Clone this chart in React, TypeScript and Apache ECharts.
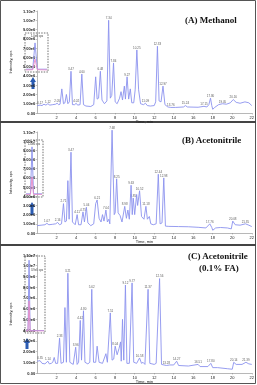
import React, { useEffect, useRef } from "react";
import * as echarts from "echarts";

// ---- Panel A (Methanol): time (min), intensity (x1e6 cps)
const timesA = [0,0.3,0.5,0.7,0.9,1.1,1.3,1.6,1.9,2.05,2.2,2.35,2.53,2.7,2.85,3.0,3.15,3.3,3.47,3.62,3.85,4.0,4.15,4.4,4.58,4.75,5.0,5.5,5.8,6.0,6.15,6.3,6.48,6.65,6.9,7.15,7.33,7.5,7.65,7.83,8.0,8.2,8.45,8.6,8.75,8.94,9.05,9.22,9.38,9.55,9.7,9.9,10.05,10.22,10.4,10.6,10.9,11.1,11.3,11.6,12.0,12.15,12.33,12.5,12.7,12.9,13.1,13.4,13.7,14.2,15.0,15.2,15.4,16.5,17.1,17.4,17.6,17.77,17.9,18.0,18.2,18.6,19.0,19.4,19.8,20.1,20.4,20.8,21.3,21.7,22];
const valuesA = [0.8,0.85,0.8,0.95,0.85,1.0,0.85,0.9,0.95,1.05,0.9,0.95,2.6,1.0,1.1,2.0,1.0,1.2,4.5,0.9,0.9,1.05,0.85,0.9,4.2,0.9,0.75,0.7,0.9,3.9,1.5,1.6,4.5,1.4,1.0,1.3,10.0,1.6,1.9,5.4,1.2,1.0,1.6,2.3,1.4,2.9,1.5,3.9,1.5,2.6,1.1,1.1,2.5,6.8,2.5,1.0,0.9,1.05,0.8,0.75,0.8,1.2,7.2,1.3,1.2,2.9,0.9,0.65,0.6,0.6,0.65,0.8,0.65,0.62,0.72,0.65,0.9,1.6,0.8,0.4,0.6,0.9,1.0,0.95,1.1,1.45,1.15,1.05,1.2,1.1,0.8];
const labelTimesA = [0.3,1.1,2.05,3.47,4.0,4.58,6.48,7.33,7.83,9.22,10.22,11.1,12.33,12.9,13.7,15.2,17.1,17.77,19.0,20.1];
const labelValuesA = [0.85,1.0,1.05,4.5,1.05,4.2,4.5,10.0,5.4,3.9,6.8,1.05,7.2,2.9,0.6,0.8,0.72,1.6,1.0,1.45];
const labelTextsA = ["0.17","1.12","2.05","3.47","4.02","4.60","6.48","7.34","7.84","9.27","10.25","11.09","12.33","12.97","13.76","15.24","17.15","17.80","19.05","20.16"];

// ---- Panel B (Acetonitrile)
const timesB = [0,0.4,0.8,1.0,1.2,1.6,1.9,2.1,2.3,2.5,2.7,2.85,3.0,3.15,3.28,3.47,3.62,3.9,4.1,4.25,4.5,4.7,4.85,5.05,5.2,5.5,5.8,6.0,6.15,6.35,6.55,6.7,6.85,7.05,7.2,7.35,7.45,7.68,7.9,8.0,8.15,8.3,8.5,8.7,8.98,9.15,9.3,9.45,9.63,9.75,9.85,10.0,10.2,10.3,10.5,10.7,10.95,11.15,11.3,11.5,11.65,11.9,12.2,12.42,12.6,12.8,12.98,13.15,13.5,14.5,15.5,16.5,17.3,17.7,17.9,18.0,18.3,18.8,19.5,19.9,20.05,20.3,20.8,21.35,21.7,22];
const valuesB = [0.8,0.85,0.9,1.05,0.9,0.95,1.0,1.15,0.9,1.0,3.2,1.2,1.3,5.7,1.5,8.8,1.2,0.9,2.0,0.9,0.9,2.3,1.2,2.8,1.1,0.8,1.0,3.2,3.6,1.6,1.2,2.0,1.3,2.5,1.2,1.5,1.0,11.2,2.0,2.2,5.9,2.2,1.9,1.2,2.9,1.6,2.5,1.5,5.2,2.0,3.8,2.0,4.2,3.0,4.6,1.8,1.5,2.9,1.5,1.8,1.0,0.9,1.0,6.4,1.0,1.1,6.0,0.75,0.72,0.7,0.68,0.62,0.55,1.0,0.6,0.3,0.55,0.6,0.55,0.45,1.3,0.9,0.85,1.0,0.85,0.7];
const labelTimesB = [1.0,2.1,2.7,3.47,4.1,4.7,5.05,6.15,7.05,7.68,8.15,8.98,9.63,9.85,10.5,11.15,12.42,12.98,17.7,20.05,21.35];
const labelValuesB = [1.05,1.15,3.2,8.8,2.0,2.3,2.8,3.6,2.5,11.2,5.9,2.9,5.2,3.8,4.6,2.9,6.4,6.0,1.0,1.3,1.0];
const labelTextsB = ["1.07","2.16","2.71","3.47","4.11","4.75","5.04","6.21","7.04","7.68","8.25","8.98","9.63","9.85","10.52","11.18","12.44","12.98","17.76","20.08","21.35"];

// ---- Panel C (Acetonitrile, 0.1% FA)
const timesC = [0,0.3,0.5,0.8,1.1,1.25,1.45,1.6,1.75,1.9,2.1,2.3,2.45,2.7,2.85,3.0,3.15,3.35,3.7,3.95,4.1,4.25,4.42,4.55,4.75,4.9,5.2,5.4,5.6,5.78,6.0,6.15,6.35,6.7,7.05,7.2,7.5,7.68,7.85,8.0,8.2,8.4,8.55,8.62,8.75,8.88,9.05,9.2,9.45,9.73,9.9,10.2,10.5,10.7,10.85,11.05,11.37,11.55,12.0,12.2,12.55,12.75,13.0,13.25,13.6,14.0,14.3,14.5,15.5,16.5,16.7,17.5,17.8,18.0,18.5,19.5,20.0,20.15,20.4,21.0,21.4,21.7,22];
const valuesC = [1.1,1.15,0.9,0.85,1.1,0.85,0.9,1.0,1.45,0.9,0.9,3.25,0.9,1.0,6.1,1.0,9.3,1.0,0.8,2.4,0.8,1.0,4.9,1.2,5.8,1.0,0.85,1.0,7.8,1.0,1.0,2.5,1.0,0.9,1.8,1.0,5.6,1.2,1.3,2.5,1.7,2.3,2.9,1.1,5.0,1.2,8.2,0.9,0.9,8.4,1.0,0.9,1.4,0.9,1.0,0.8,7.8,0.9,0.8,0.9,8.8,0.8,0.75,0.7,0.75,0.75,1.1,0.7,0.65,0.8,0.6,0.6,0.9,0.5,0.5,0.4,0.35,1.0,0.8,0.8,1.0,0.85,0.8];
const labelTimesC = [0.3,1.1,2.3,3.15,3.95,4.42,4.75,5.6,7.5,8.0,9.05,9.73,10.5,11.37,12.55,13.25,14.3,16.5,17.8,20.15,21.4];
const labelValuesC = [1.15,1.1,3.25,9.3,2.4,4.9,5.8,7.8,5.6,2.5,8.2,8.4,1.4,7.8,8.8,0.7,1.1,0.8,0.9,1.0,1.0];
const labelTextsC = ["0.35","1.14","2.33","3.21","3.96","4.42","4.80","5.62","7.51","8.04","9.12","9.77","10.58","11.37","12.56","13.28","14.27","16.51","17.80","20.14","21.39"];

// ---- Insets (relative units)
const insetTimesA = [0,3.2,4.3,5.4,10];
const insetBlueA = [5,5,78,5,5];
const insetPinkA = [3,3.6,33,3.6,3];
const insetTimesB = [0,2.8,3.75,4.7,10];
const insetBlueB = [4,4,91,4,4];
const insetPinkB = [3,3,35,3,3];
const insetTimesC = [0,1.1,1.7,2.3,10];
const insetBlueC = [2,2,97,2,2];
const insetPinkC = [1.5,1.5,42,1.5,1.5];

const BLUE = "#8b92ee";
const PINK = "#e88cc8";

const zip = (a: number[], b: number[]) => a.map((t, i) => [t, b[i]]);
const labelData = (t: number[], v: number[], s: string[]) => t.map((x, i) => [x, v[i], s[i]]);

const yFmt = (v: number) => (v === 0 ? "0.00" : v >= 10 ? (v / 10).toFixed(2) + "e7" : v.toFixed(2) + "e6");

export default function App() {
  const ref = useRef<HTMLDivElement>(null);
  useEffect(() => {
    if (!ref.current) return;
    const chart = echarts.init(ref.current, undefined, { renderer: "svg" });
    const grids = [
      { left: 20, top: 11, width: 232, height: 102 },
      { left: 20, top: 132, width: 232, height: 101 },
      { left: 20, top: 255, width: 232, height: 118 },
      { left: 26, top: 35, width: 21, height: 36 },
      { left: 26, top: 142, width: 16, height: 54 },
      { left: 26, top: 258, width: 18, height: 74 },
    ];
    const mainX = (i: number) => ({
      type: "value", gridIndex: i, min: 0, max: 22, interval: 2,
      name: "Time, min", nameLocation: "middle", nameGap: 6,
      nameTextStyle: { fontSize: 4, color: "#222", fontFamily: "Liberation Sans" },
      axisLine: { lineStyle: { color: "#888", width: 0.6 } },
      axisTick: { length: 1.5, lineStyle: { color: "#888", width: 0.5 } },
      axisLabel: { fontSize: 4, color: "#222", margin: 2, showMinLabel: false },
      splitLine: { show: false },
    });
    const mainY = (i: number) => ({
      type: "value", gridIndex: i, min: 0, max: 11, interval: 1,
      name: "Intensity, cps", nameLocation: "middle", nameGap: 11,
      nameTextStyle: { fontSize: 4, color: "#222", fontFamily: "Liberation Sans" },
      axisLine: { show: true, lineStyle: { color: "#888", width: 0.6 } },
      axisTick: { show: true, length: 1.5, lineStyle: { color: "#888", width: 0.5 } },
      axisLabel: { fontSize: 4, color: "#222", margin: 2, formatter: yFmt, fontWeight: "bold" },
      splitLine: { show: false },
    });
    const insetX = (i: number) => ({ type: "value", gridIndex: i, min: 0, max: 10, show: false });
    const insetY = (i: number) => ({ type: "value", gridIndex: i, min: 0, max: 100, show: false });
    const mainLine = (i: number, t: number[], v: number[]) => ({
      type: "line", xAxisIndex: i, yAxisIndex: i, data: zip(t, v), symbol: "none", clip: false,
      lineStyle: { color: BLUE, width: 0.9 },
    });
    const peakLabels = (i: number, t: number[], v: number[], s: string[]) => ({
      type: "scatter", xAxisIndex: i, yAxisIndex: i, data: labelData(t, v, s), symbolSize: 0, clip: false,
      label: { show: true, position: "top", distance: 1, fontSize: 3, color: "#333", formatter: (p: any) => p.data[2] },
    });
    const insetLine = (i: number, t: number[], v: number[], c: string) => ({
      type: "line", xAxisIndex: i, yAxisIndex: i, data: zip(t, v), symbol: "none",
      lineStyle: { color: c, width: 0.9 },
    });
    const arrow = (x: number, y1: number, y2: number) => ({
      type: "polygon",
      shape: { points: [[x, y1], [x + 3, y1 + 5], [x + 1.5, y1 + 5], [x + 1.5, y2], [x - 1.5, y2], [x - 1.5, y1 + 5], [x - 3, y1 + 5]] },
      style: { fill: "#2b5cb3" },
    });
    const dashBox = (x: number, y: number, w: number, h: number) => ({
      type: "rect", shape: { x, y, width: w, height: h },
      style: { fill: "none", stroke: "#333", lineWidth: 0.7, lineDash: [1.5, 1.2] },
    });
    const title = (text: string, x: number, y: number) => ({
      type: "text", x, y,
      style: { text, fontSize: 9, fontWeight: "bold", fontFamily: "Liberation Serif", fill: "#111", textVerticalAlign: "middle" },
    });
    const small = (text: string, x: number, y: number) => ({
      type: "text", x, y,
      style: { text, fontSize: 2.8, fill: "#333", textVerticalAlign: "middle", fontFamily: "Liberation Sans" },
    });
    chart.setOption({
      animation: false,
      grid: grids,
      xAxis: [mainX(0), mainX(1), mainX(2), insetX(3), insetX(4), insetX(5)],
      yAxis: [mainY(0), mainY(1), mainY(2), insetY(3), insetY(4), insetY(5)],
      series: [
        mainLine(0, timesA, valuesA),
        mainLine(1, timesB, valuesB),
        mainLine(2, timesC, valuesC),
        peakLabels(0, labelTimesA, labelValuesA, labelTextsA),
        peakLabels(1, labelTimesB, labelValuesB, labelTextsB),
        peakLabels(2, labelTimesC, labelValuesC, labelTextsC),
        insetLine(3, insetTimesA, insetBlueA, BLUE),
        insetLine(3, insetTimesA, insetPinkA, PINK),
        insetLine(4, insetTimesB, insetBlueB, BLUE),
        insetLine(4, insetTimesB, insetPinkB, PINK),
        insetLine(5, insetTimesC, insetBlueC, BLUE),
        insetLine(5, insetTimesC, insetPinkC, PINK),
      ],
      graphic: [
        { type: "rect", shape: { x: 0.5, y: 0.5, width: 255, height: 383 }, style: { fill: "none", stroke: "#555", lineWidth: 1 } },
        { type: "line", shape: { x1: 0, y1: 122, x2: 256, y2: 122 }, style: { stroke: "#444", lineWidth: 2 } },
        { type: "line", shape: { x1: 0, y1: 245, x2: 256, y2: 245 }, style: { stroke: "#444", lineWidth: 2 } },
        dashBox(25, 33, 23, 39),
        dashBox(25, 140, 18, 57),
        dashBox(25, 256, 20, 77),
        arrow(33, 77, 89),
        arrow(32, 202, 215),
        arrow(27, 338, 349),
        title("(A) Methanol", 185, 20),
        title("(B) Acetonitrile", 182, 140),
        title("(C) Acetonitrile", 188, 256),
        title("(0.1% FA)", 199, 268),
        small("1.0e6 cps", 31, 36),
        small("1.4e6 cps", 28, 144),
        small("3.9e5 cps", 31, 270),
      ],
    });
    return () => chart.dispose();
  }, []);
  return <div ref={ref} style={{ position: "fixed", left: 0, top: 0, width: 257, height: 385 }} />;
}
